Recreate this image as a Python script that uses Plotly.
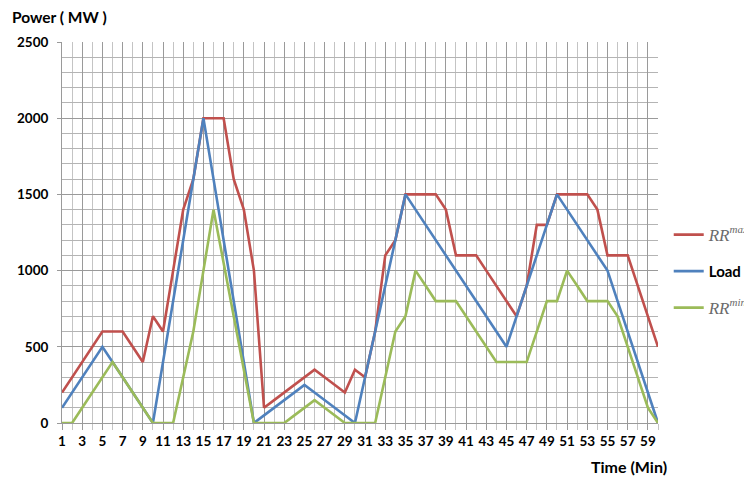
import plotly.graph_objects as go

minutes = list(range(1, 61))

rr_max = [200, 300, 400, 500, 600, 600, 600, 500, 400, 700,
          600, 1000, 1400, 1600, 2000, 2000, 2000, 1600, 1400, 1000,
          100, 150, 200, 250, 300, 350, 300, 250, 200, 350,
          300, 600, 1100, 1200, 1500, 1500, 1500, 1500, 1400, 1100,
          1100, 1100, 1000, 900, 800, 700, 900, 1300, 1300, 1500,
          1500, 1500, 1500, 1400, 1100, 1100, 1100, 900, 700, 500]

load = [100, 200, 300, 400, 500, 400, 300, 200, 100, 0,
        400, 800, 1200, 1600, 2000, 1600, 1200, 800, 400, 0,
        50, 100, 150, 200, 250, 200, 150, 100, 50, 0,
        300, 600, 900, 1200, 1500, 1400, 1300, 1200, 1100, 1000,
        900, 800, 700, 600, 500, 700, 900, 1100, 1300, 1500,
        1400, 1300, 1200, 1100, 1000, 800, 600, 400, 200, 0]

rr_min = [0, 0, 100, 200, 300, 400, 300, 200, 100, 0,
          0, 0, 300, 600, 1000, 1400, 1050, 700, 350, 0,
          0, 0, 0, 50, 100, 150, 100, 50, 0, 0,
          0, 0, 300, 600, 700, 1000, 900, 800, 800, 800,
          700, 600, 500, 400, 400, 400, 400, 600, 800, 800,
          1000, 900, 800, 800, 800, 700, 500, 300, 100, 0]

x_tick_vals = list(range(1, 60, 2))
y_tick_vals = [0, 500, 1000, 1500, 2000, 2500]

serif_style = "font-family:'Liberation Serif';font-size:17px;color:#6a6a6a;font-weight:normal"
sup_style = "font-size:11px"
name_max = (f"<span style=\"{serif_style}\"><i>RR</i>"
            f"<sup><span style=\"{sup_style}\"><i>max</i></span></sup></span>")
name_min = (f"<span style=\"{serif_style}\"><i>RR</i>"
            f"<sup><span style=\"{sup_style}\"><i>min</i></span></sup></span>")
name_load = "<b>Load</b>"

fig = go.Figure()
fig.add_trace(go.Scatter(x=minutes, y=rr_max, mode="lines", name=name_max,
                         line=dict(color="#C0504D", width=2.6), legendgroup="a"))
fig.add_trace(go.Scatter(x=minutes, y=load, mode="lines", name=name_load,
                         line=dict(color="#4F81BD", width=2.6), legendgroup="b"))
fig.add_trace(go.Scatter(x=minutes, y=rr_min, mode="lines", name=name_min,
                         line=dict(color="#9BBB59", width=2.6), legendgroup="c"))

fig.update_layout(
    width=744, height=469,
    margin=dict(l=54, r=94, t=34, b=54, autoexpand=False),
    paper_bgcolor="white", plot_bgcolor="white",
    font=dict(family="Lato", size=13, color="black"),
    showlegend=True,
    legend=dict(x=1.018, y=0.537, xanchor="left", yanchor="top",
                traceorder="grouped", tracegroupgap=14,
                font=dict(family="Lato", size=15, color="black"),
                bgcolor="rgba(0,0,0,0)", borderwidth=0),
    xaxis=dict(range=[1, 60], tickmode="array", tickvals=x_tick_vals,
               ticktext=[f"<b>{v}</b>" for v in x_tick_vals],
               showgrid=True, gridcolor="#9a9a9a", gridwidth=1,
               ticks="outside", ticklen=6, tickcolor="#9a9a9a",
               showline=True, linecolor="#9a9a9a", linewidth=1,
               zeroline=False, tickfont=dict(family="Lato", size=13.5),
               minor=dict(dtick=1, tick0=0, showgrid=True, gridcolor="#c4c4c4",
                          ticks="outside", ticklen=6, tickcolor="#c4c4c4")),
    yaxis=dict(range=[0, 2500], tickmode="array", tickvals=y_tick_vals,
               ticktext=[f"<b>{v}</b>" for v in y_tick_vals],
               showgrid=True, gridcolor="#9a9a9a", gridwidth=1,
               ticks="outside", ticklen=4, tickcolor="#9a9a9a",
               showline=True, linecolor="#9a9a9a", linewidth=1,
               zeroline=False, tickfont=dict(family="Lato", size=13.5),
               ticklabelstandoff=6,
               minor=dict(dtick=100, showgrid=True, gridcolor="#b4b4b4")),
    annotations=[
        dict(text="<b>Power ( MW )</b>", xref="paper", yref="paper",
             x=-0.088, y=1.066, xanchor="left", yanchor="middle",
             showarrow=False, font=dict(family="Lato", size=15.5)),
        dict(text="<b>Time (Min)</b>", xref="paper", yref="paper",
             x=1.018, y=-0.115, xanchor="right", yanchor="middle",
             showarrow=False, font=dict(family="Lato", size=16)),
    ],
)

fig.write_html("out.html")
